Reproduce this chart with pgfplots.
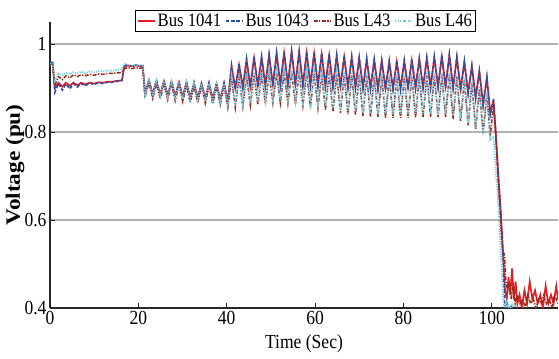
\documentclass[border=0pt]{standalone}
\usepackage{fontspec}
\setmainfont{Liberation Serif}[FakeStretch=0.88]
\newfontfamily\ylfont{Liberation Serif}[FakeStretch=1.14]
\usepackage{pgfplots}
\pgfplotsset{compat=1.18}
\usepackage{pgfplotstable}
\usetikzlibrary{calc}
\definecolor{cR}{HTML}{E41E25}
\definecolor{cB}{HTML}{2D4BAA}
\definecolor{cC}{HTML}{9B2819}
\definecolor{cD}{HTML}{6EC8DC}

\pgfplotstableread{
t R B C D
0 .957 .958 .955 .956
0.6 .957 .958 .955 .956
1.1 .900 .890 .906 .916
1.9 .912 .910 .926 .933
2.8 .903 .895 .919 .929
3.6 .912 .909 .928 .935
4.5 .905 .898 .923 .931
5.3 .912 .910 .930 .936
6.2 .906 .902 .926 .933
7.0 .912 .910 .930 .937
8.0 .908 .905 .928 .934
9.0 .912 .911 .931 .938
10.0 .910 .908 .929 .935
11.0 .913 .912 .932 .939
12.0 .912 .910 .931 .937
13.0 .914 .913 .933 .940
14.0 .914 .913 .933 .939
15.0 .916 .915 .934 .941
16.0 .917 .916 .935 .942
16.3 .918 .917 .936 .943
16.8 .948 .950 .944 .955
17.6 .951 .953 .946 .953
18.5 .949 .950 .944 .951
19.4 .951 .952 .946 .953
20.3 .950 .951 .945 .951
21.0 .950 .951 .946 .952
21.5 .888 .886 .880 .885
22.4 .917 .920 .912 .918
23.25 .886 .884 .876 .882
24.1 .916 .918 .910 .916
24.95 .885 .883 .875 .881
25.8 .915 .917 .909 .915
26.65 .884 .882 .873 .879
27.5 .914 .916 .908 .914
28.35 .882 .880 .871 .877
29.2 .913 .915 .907 .913
30.05 .880 .878 .869 .875
30.9 .912 .914 .906 .912
31.75 .878 .876 .867 .873
32.6 .911 .913 .905 .911
33.45 .877 .875 .866 .872
34.3 .910 .912 .905 .910
35.15 .876 .874 .865 .871
36.0 .910 .912 .904 .910
36.85 .875 .873 .864 .870
37.7 .909 .911 .904 .909
38.55 .874 .872 .863 .869
39.4 .910 .912 .905 .910
40.25 .870 .868 .855 .862
41.1 .948 .952 .922 .928
41.95 .900 .897 .855 .862
42.8 .952 .956 .925 .930
43.65 .902 .899 .858 .865
44.5 .963 .967 .928 .934
45.35 .904 .900 .860 .867
46.2 .968 .972 .930 .936
47.05 .906 .902 .862 .869
47.9 .968 .972 .931 .937
48.75 .907 .903 .864 .871
49.6 .973 .977 .933 .939
50.45 .908 .904 .866 .873
51.3 .977 .981 .934 .940
52.15 .909 .905 .866 .873
53.0 .979 .983 .935 .941
53.85 .909 .905 .865 .872
54.7 .981 .985 .935 .941
55.55 .909 .905 .863 .870
56.4 .980 .984 .934 .940
57.25 .908 .904 .860 .868
58.1 .979 .983 .934 .940
58.95 .908 .904 .857 .865
59.8 .978 .982 .933 .939
60.65 .907 .903 .854 .862
61.5 .976 .980 .932 .938
62.35 .906 .902 .850 .858
63.2 .974 .978 .932 .938
64.05 .905 .901 .846 .854
64.9 .972 .976 .931 .937
65.75 .905 .900 .843 .851
66.6 .970 .974 .930 .936
67.45 .904 .899 .840 .848
68.3 .968 .972 .930 .936
69.15 .903 .898 .838 .846
70.0 .966 .970 .929 .935
70.85 .902 .897 .836 .844
71.7 .964 .968 .928 .934
72.55 .901 .896 .834 .842
73.4 .962 .966 .927 .933
74.25 .900 .895 .833 .841
75.1 .960 .964 .926 .932
75.95 .900 .895 .832 .840
76.8 .958 .962 .925 .931
77.65 .900 .895 .832 .840
78.5 .959 .963 .925 .931
79.35 .900 .895 .832 .840
80.2 .960 .964 .925 .931
81.05 .901 .896 .832 .840
81.9 .962 .966 .926 .932
82.75 .902 .897 .833 .841
83.6 .964 .968 .927 .933
84.45 .903 .898 .833 .841
85.3 .966 .970 .928 .934
86.15 .904 .899 .834 .842
87.0 .968 .972 .928 .934
87.85 .904 .900 .834 .842
88.7 .971 .975 .929 .935
89.55 .904 .900 .833 .841
90.4 .973 .977 .929 .935
91.25 .902 .898 .830 .838
92.1 .968 .972 .925 .931
92.95 .898 .893 .824 .830
93.8 .958 .962 .918 .924
94.65 .890 .885 .815 .820
95.5 .948 .952 .910 .915
96.35 .880 .874 .806 .808
97.2 .936 .940 .898 .902
98.05 .865 .858 .798 .795
98.9 .922 .926 .888 .890
99.65 .845 .838 .790 .782
100.4 .870 .875 .862 .790
}\main

\tikzset{
  sR/.style={cR, line width=1.7bp, solid},
  sB/.style={cB, line width=1.5bp, dash pattern=on 3.5bp off 1.8bp},
  sC/.style={cC, line width=1.5bp, dash pattern=on 4bp off 1.5bp on 1.2bp off 1.5bp},
  sD/.style={cD, line width=1.7bp, dash pattern=on 1.2bp off 1.3bp},
}

\begin{document}
\begin{tikzpicture}
\begin{axis}[
  scale only axis, width=508bp, height=286bp,
  xmin=0, xmax=115, ymin=0.4, ymax=1.05,
  axis x line*=bottom, axis y line*=left,
  axis line style={-, line width=1.1bp, black!85},
  xtick={0,20,...,100}, ytick={0.4,0.6,0.8,1},
  tick align=inside, major tick length=5bp,
  tick style={line width=0.9bp, black!85},
  ymajorgrids, grid style={line width=1.1bp, black!30},
  font=\fontsize{20}{23}\selectfont,
  tick label style={font=\fontsize{20}{23}\selectfont},
  /pgf/number format/assume math mode=true,
  xlabel={Time (Sec)},
  ylabel={\ylfont\bfseries Voltage (pu)},
  xlabel style={at={(axis description cs:0.5,-0.126)}, anchor=center},
  ylabel style={at={(axis description cs:-0.069,0.5)}, anchor=center, font=\fontsize{20.5}{23}\selectfont},
  legend columns=4,
  legend style={at={(0.503,1.042)}, anchor=north, draw=black, line width=1.2bp,
    inner sep=1.5bp, font=\fontsize{19}{22}\selectfont,
    /tikz/every even column/.append style={column sep=2bp}},
  legend cell align=left,
]
\addplot[sR] table[x=t,y=R]{\main};
\addlegendentry{Bus 1041}
\addplot[sB] table[x=t,y=B]{\main};
\addlegendentry{Bus 1043}
\addplot[sC] table[x=t,y=C]{\main};
\addlegendentry{Bus L43}
\addplot[sD] table[x=t,y=D]{\main};
\addlegendentry{Bus L46}

\addplot[sR, forget plot] coordinates {(100.4,.870) (100.9,.80) (101.5,.70) (102.1,.61) (102.6,.52) (103.0,.44) (103.4,.42) (103.8,.47) (104.2,.43) (104.6,.49) (105.0,.42) (105.4,.46) (105.8,.41) (106.3,.43) (106.8,.40) (107.4,.44) (108.0,.41) (108.6,.46) (109.2,.42) (109.8,.44) (110.4,.41) (111.0,.43) (111.6,.40) (112.2,.45) (112.8,.41) (113.4,.43) (114.0,.41) (114.6,.45) (115.0,.42)};
\addplot[sB, forget plot] coordinates {(100.4,.875) (100.9,.80) (101.5,.70) (102.1,.60) (102.6,.50) (103.0,.40) (103.5,.41) (104.0,.395) (104.5,.405) (105,.39) (115,.39)};
\addplot[sC, forget plot] coordinates {(100.4,.862) (100.9,.79) (101.5,.68) (102.1,.58) (102.5,.53) (102.9,.52) (103.2,.46) (103.6,.44) (104.0,.46) (104.4,.42) (104.8,.45) (105.3,.41) (105.8,.43) (106.4,.41) (107.0,.42) (107.6,.40) (108.2,.43) (108.8,.41) (109.4,.42) (110.0,.40) (110.6,.42) (111.2,.41) (111.8,.43) (112.4,.41) (113.0,.42) (113.6,.40) (114.2,.43) (115.0,.41)};
\addplot[sD, forget plot] coordinates {(100.4,.790) (101.0,.70) (101.6,.62) (102.1,.52) (102.6,.42) (103.0,.39) (103.5,.42) (104.0,.39) (104.6,.41) (105.2,.39) (106,.38) (115,.38)};

\coordinate (bl) at (rel axis cs:0,0);
\coordinate (tr) at (rel axis cs:1,1);
\end{axis}
\pgfresetboundingbox
\path ($(bl)+(-50bp,-51bp)$) rectangle ($(tr)+(1bp,22bp)$);
\end{tikzpicture}
\end{document}
